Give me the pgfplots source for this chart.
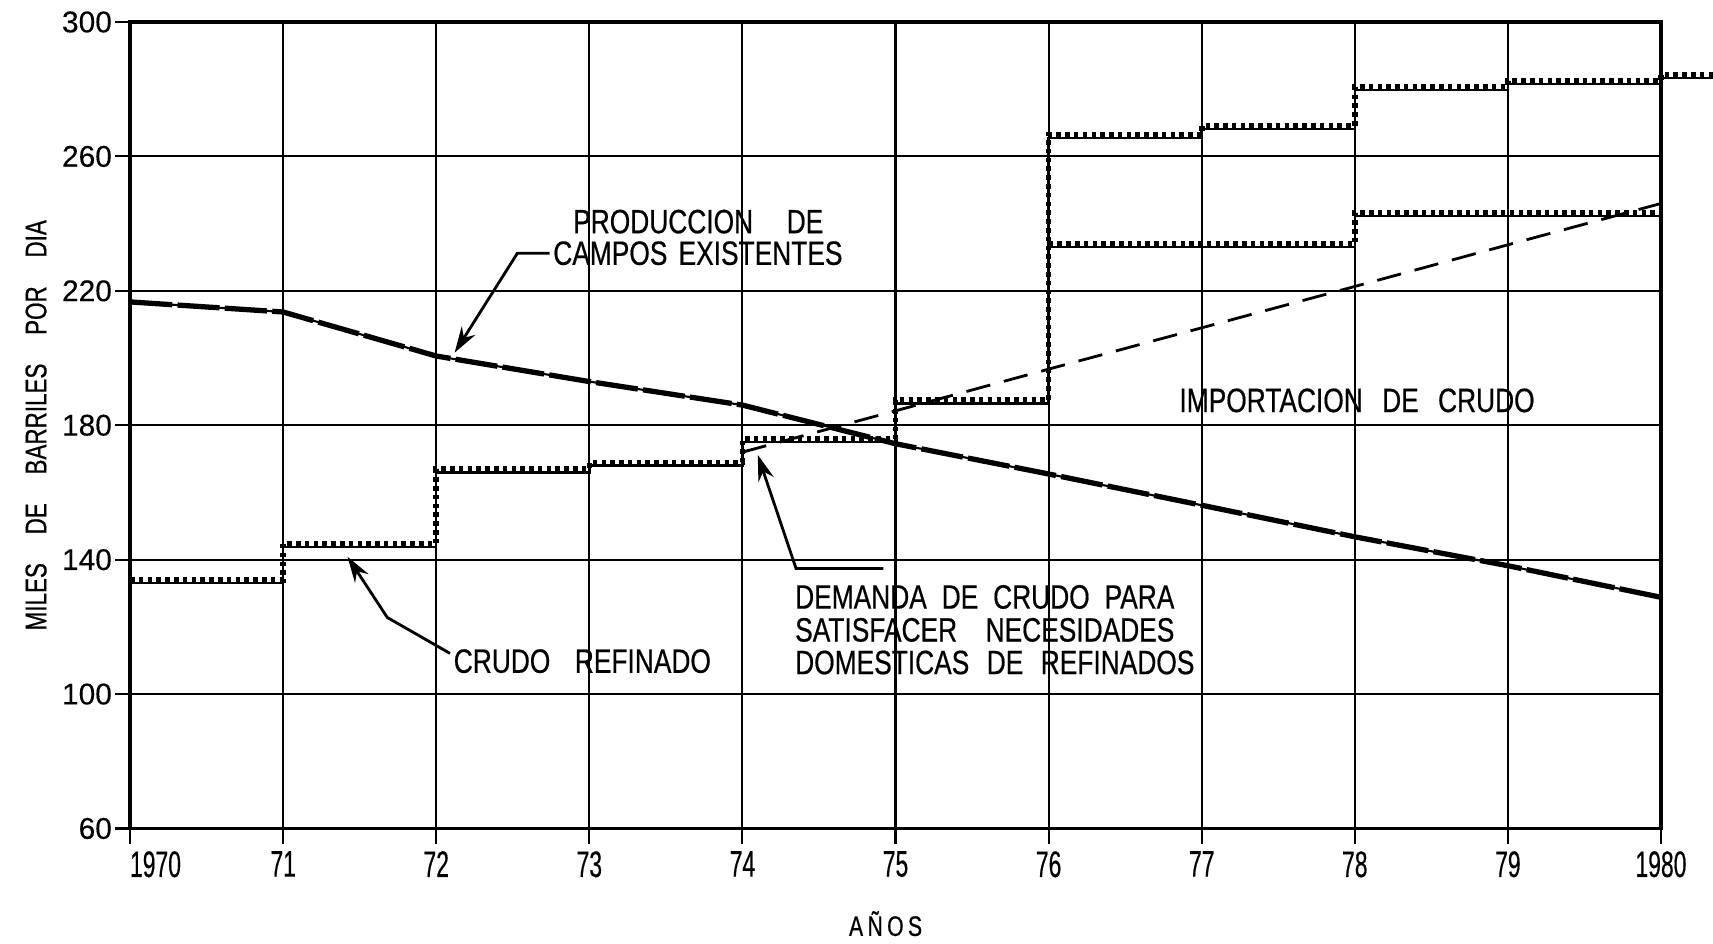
\documentclass[border=0pt]{standalone}
\usepackage{pgfplots}
\pgfplotsset{compat=1.18}
\usepackage{fontspec}
\setmainfont{Liberation Sans}
\newfontfamily\condA[FakeStretch=0.78,FakeBold=0.5]{Liberation Sans}
\newfontfamily\condB[FakeStretch=0.62,FakeBold=0.4]{Liberation Sans}
\newfontfamily\condC[FakeStretch=0.75,FakeBold=0.6]{Liberation Sans}
\newfontfamily\tickf[FakeBold=0.3]{Liberation Sans}
\usetikzlibrary{arrows.meta}
\newcommand{\ann}{\condA\fontsize{9.6}{10}\selectfont}
\begin{document}
\begin{tikzpicture}
\begin{axis}[
  scale only axis, width=153mm, height=80.6mm,
  xmin=1970, xmax=1980, ymin=60, ymax=300,
  clip=false,
  xtick={1970,1971,1972,1973,1974,1975,1976,1977,1978,1979,1980},
  xticklabels={\makebox[0pt][l]{1970},71,72,73,74,75,76,77,78,79,1980},
  ytick={60,100,140,180,220,260,300},
  yticklabels={60,100,140,180,220,260,300},
  grid=major, major grid style={black, line width=0.6pt},
  axis line style={black, line width=0.9pt},
  tick align=outside, tick pos=left, major tick length=1.5mm,
  tick style={black, line width=0.6pt},
  xticklabel style={font=\condB\fontsize{10.5}{11}\selectfont, anchor=north, inner sep=0pt, yshift=-0.7mm},
  yticklabel style={font=\tickf\fontsize{8.5}{9}\selectfont, anchor=east, inner sep=0pt, xshift=-0.25mm},
  xlabel={\condC\fontsize{8}{9}\selectfont\makebox[7.3mm][s]{A\hfill Ñ\hfill O\hfill S}},
  xlabel style={at={(axis description cs:0.4935,-0.118)}, anchor=center, inner sep=0pt},
  ylabel={\condC\fontsize{8.5}{9}\selectfont\makebox[41mm][s]{MILES DE BARRILES POR DIA}},
  ylabel style={at={(axis description cs:-0.0614,0.5)}, anchor=center, inner sep=0pt},
]
% Produccion de campos existentes
\addplot[black, line width=0.6pt] coordinates {
 (1970,216.7) (1971,213.7) (1972,200.6) (1973,193) (1974,186) (1975,174.5)
 (1976,165.5) (1977,156.2) (1978,146.8) (1979,138.2) (1980,128.8)};
\addplot[black, line width=1.5pt, dash pattern=on 12pt off 1.5pt] coordinates {
 (1970,216.7) (1971,213.7) (1972,200.6) (1973,193) (1974,186) (1975,174.5)
 (1976,165.5) (1977,156.2) (1978,146.8) (1979,138.2) (1980,128.8)};
% Crudo refinado (upper step)
\addplot[const plot, black, line width=0.7pt,
  postaction={draw, line width=1.6pt, dash pattern=on 1.3pt off 1.2pt, transform canvas={yshift=0.9pt}}]
 coordinates {
 (1970,133) (1971,143.8) (1972,166) (1973,168) (1974,175) (1975,186.5)
 (1976,265.5) (1977,268.2) (1978,279.8) (1979,281.5) (1980,283.3) (1980.34,283.3)};
% lower step
\addplot[const plot, black, line width=0.7pt,
  postaction={draw, line width=1.6pt, dash pattern=on 1.3pt off 1.2pt, transform canvas={yshift=0.9pt}}]
 coordinates {(1976,233) (1978,242.3) (1980,242.3)};
% Demanda de crudo
\addplot[black, line width=0.8pt, dash pattern=on 7pt off 4pt] coordinates {
 (1974,172) (1975,184.3) (1976,196.7) (1977,209) (1978,221.3) (1979,233.7) (1980,246)};

% annotations
\node[anchor=west, inner sep=0pt] at (axis cs:1972.89,240.6) {\ann\makebox[25mm][s]{PRODUCCION DE}};
\node[anchor=west, inner sep=0pt] at (axis cs:1972.76,231.2) {\ann\makebox[28.9mm][s]{CAMPOS EXISTENTES}};
\draw[line width=0.8pt, -{Stealth[length=2.6mm,width=1.6mm]}] (axis cs:1972.74,231.2) -- (axis cs:1972.53,231.2) -- (axis cs:1972.12,201.6);

\node[anchor=west, inner sep=0pt] at (axis cs:1972.11,109.8) {\ann\makebox[25.7mm][s]{CRUDO REFINADO}};
\draw[line width=0.8pt, -{Stealth[length=2.6mm,width=1.6mm]}] (axis cs:1972.09,112.1) -- (axis cs:1971.68,122.8) -- (axis cs:1971.42,140.9);

\node[anchor=west, inner sep=0pt] at (axis cs:1974.34,128.9) {\ann\makebox[37.9mm][s]{DEMANDA DE CRUDO PARA}};
\node[anchor=west, inner sep=0pt] at (axis cs:1974.34,119.1) {\ann\makebox[37.9mm][s]{SATISFACER NECESIDADES}};
\node[anchor=west, inner sep=0pt] at (axis cs:1974.34,109.4) {\ann\makebox[39.9mm][s]{DOMESTICAS DE REFINADOS}};
\draw[line width=0.8pt, -{Stealth[length=2.6mm,width=1.6mm]}] (axis cs:1974.92,137.4) -- (axis cs:1974.35,137.4) -- (axis cs:1974.10,171.2);

\node[anchor=west, inner sep=0pt] at (axis cs:1976.85,187.4) {\ann\makebox[35.5mm][s]{IMPORTACION DE CRUDO}};
\end{axis}
\pgfresetboundingbox
\path[use as bounding box] (-13mm,-11.5mm) rectangle (158.2mm,82.8mm);
\end{tikzpicture}
\end{document}
